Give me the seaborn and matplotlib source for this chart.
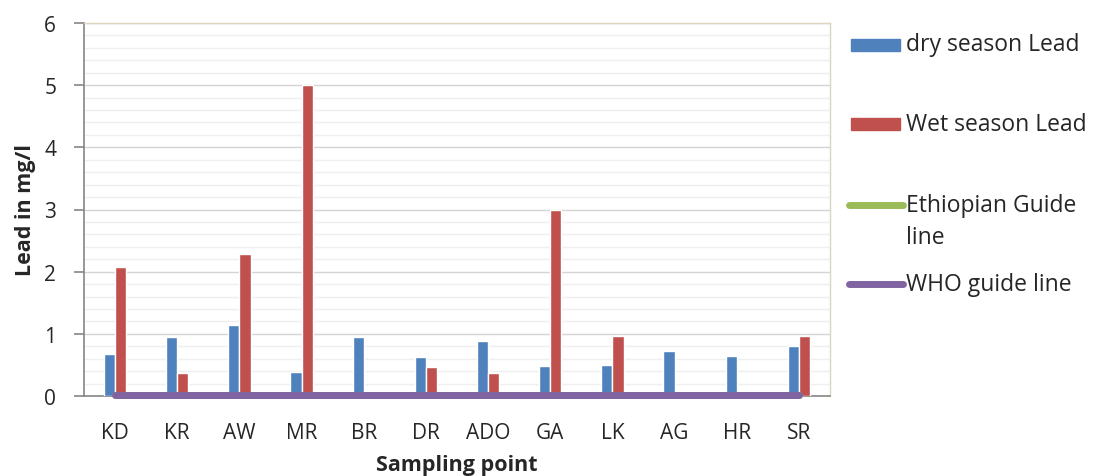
import numpy as np
import pandas as pd
import matplotlib
matplotlib.use("Agg")
import matplotlib.pyplot as plt
from matplotlib.lines import Line2D
from matplotlib.patches import Rectangle
from matplotlib.ticker import MultipleLocator
import seaborn as sns

categories = ["KD", "KR", "AW", "MR", "BR", "DR", "ADO", "GA", "LK", "AG", "HR", "SR"]
dry_lead = [0.67, 0.95, 1.15, 0.38, 0.95, 0.63, 0.89, 0.49, 0.50, 0.72, 0.65, 0.80]
wet_lead = [2.07, 0.37, 2.28, 5.00, 0.00, 0.47, 0.37, 3.00, 0.97, 0.02, 0.03, 0.97]
ethiopian_guide = [0.01] * 12
who_guide = [0.01] * 12
series_names = ["dry season Lead", "Wet season Lead", "Ethiopian Guide\nline", "WHO guide line"]

BLUE, RED, GREEN, PURPLE = "#4F81BD", "#C0504D", "#9BBB59", "#8064A2"

sns.set_style("white")
plt.rcParams["font.family"] = ["Open Sans", "DejaVu Sans"]

df = pd.DataFrame({
    "Sampling point": categories * 2,
    "value": dry_lead + wet_lead,
    "series": [series_names[0]] * 12 + [series_names[1]] * 12,
})

W, H = 1093, 477
fig = plt.figure(figsize=(W / 100, H / 100), dpi=100)
ax = fig.add_axes([84 / W, 1 - 397 / H, (830 - 84) / W, (397 - 24) / H])

sns.barplot(data=df, x="Sampling point", y="value", hue="series",
            palette=[BLUE, RED], width=0.36, gap=0, dodge=True,
            saturation=1, ax=ax, legend=False, errorbar=None, zorder=3)

xpos = np.arange(len(categories))
ax.plot(xpos, ethiopian_guide, color=GREEN, lw=5, solid_capstyle="round", zorder=4, clip_on=False)
ax.plot(xpos, who_guide, color=PURPLE, lw=5, solid_capstyle="round", zorder=5, clip_on=False)

ax.set_xlim(-0.5, len(categories) - 0.5)
ax.set_ylim(0, 6)
ax.yaxis.set_major_locator(MultipleLocator(1))
ax.yaxis.set_minor_locator(MultipleLocator(0.2))
ax.grid(which="major", axis="y", color="#D4D4D4", lw=1.0, zorder=0)
ax.grid(which="minor", axis="y", color="#EFEFEF", lw=1.0, zorder=0)
ax.grid(False, axis="x")
ax.set_axisbelow(True)

for s in ["top", "right"]:
    ax.spines[s].set_color("#DDD6BE")
    ax.spines[s].set_linewidth(1.0)
for s in ["left", "bottom"]:
    ax.spines[s].set_color("#868686")
    ax.spines[s].set_linewidth(1.2)

ax.tick_params(axis="y", which="major", length=7, color="#868686", width=1.2,
               labelsize=15, pad=13, direction="out", left=True)
ax.tick_params(axis="y", which="minor", length=0)
ax.tick_params(axis="x", length=0, labelsize=15, pad=19)
ax.set_xticks(xpos)
ax.set_xticklabels(categories)

ax.set_xlabel("Sampling point", fontsize=15.5, fontweight="bold", labelpad=8)
ax.set_ylabel("Lead in mg/l", fontsize=15.5, fontweight="bold", labelpad=6)

# manual legend on the right (pixel positions measured from top)
def fy(y):
    return 1 - y / H

fig.patches.append(Rectangle((851 / W, fy(52)), 49 / W, 12 / H, transform=fig.transFigure,
                             color=BLUE))
fig.patches.append(Rectangle((851 / W, fy(131)), 49 / W, 12 / H, transform=fig.transFigure,
                             color=RED))
fig.lines.append(Line2D([849 / W, 903 / W], [fy(206), fy(206)], transform=fig.transFigure,
                        color=GREEN, lw=5, solid_capstyle="round"))
fig.lines.append(Line2D([849 / W, 903 / W], [fy(285), fy(285)], transform=fig.transFigure,
                        color=PURPLE, lw=5, solid_capstyle="round"))
tx = 906 / W
fig.text(tx, fy(45), series_names[0], fontsize=16.5, va="center", ha="left")
fig.text(tx, fy(125), series_names[1], fontsize=16.5, va="center", ha="left")
fig.text(tx, fy(222), series_names[2], fontsize=16.5, va="center", ha="left", linespacing=1.45)
fig.text(tx, fy(285), series_names[3], fontsize=16.5, va="center", ha="left")

fig.savefig("out.png", dpi=100, facecolor="white")
